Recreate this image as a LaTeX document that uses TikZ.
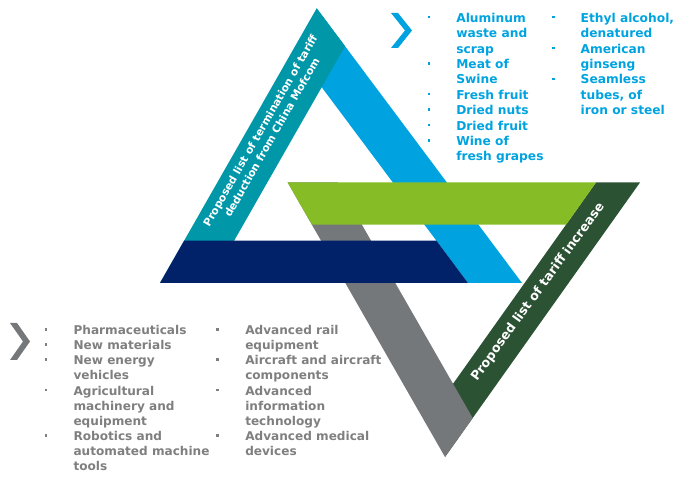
\documentclass[tikz,border=0pt]{standalone}
\usepackage{fontspec}
\setmainfont{DejaVu Sans}

\definecolor{tealband}{HTML}{0097A9}
\definecolor{skyband}{HTML}{00A3E0}
\definecolor{navyband}{HTML}{012169}
\definecolor{limeband}{HTML}{86BC25}
\definecolor{forestband}{HTML}{2C5234}
\definecolor{greyband}{HTML}{75787B}
\definecolor{greytext}{HTML}{7F7F7F}

\newcommand{\listdot}{\rule[2.7pt]{1.7pt}{1.7pt}}

\tikzset{
    bandlabel/.style={text=white, align=center, inner sep=0pt},
    itemlist/.style={anchor=base west, inner sep=0pt},
}

\begin{document}
\begin{tikzpicture}[x=0.025cm, y=-0.025cm]

    \useasboundingbox (0,0) rectangle (678,477);

    %% Upper triangle

    % Key points
    \coordinate (apex) at (316.7,8.3);
    \coordinate (tealfoot) at (160,283);
    \coordinate (tealinfoot) at (210,283);
    \coordinate (tealintop) at (366.7,8.3);
    \coordinate (skyfoot) at (522,283);
    \coordinate (skyinfoot) at (468,283);
    \coordinate (skyintop) at (262.7,8.3);
    \coordinate (skytip) at (intersection of tealinfoot--tealintop and apex--skyfoot);
    \coordinate (innerapex) at (intersection of tealinfoot--tealintop and skyinfoot--skyintop);
    \coordinate (navyL) at (0,240.7);
    \coordinate (navyR) at (678,240.7);
    \coordinate (navyNW) at (intersection of apex--tealfoot and navyL--navyR);
    \coordinate (navyNE) at (intersection of skyinfoot--skyintop and navyL--navyR);

    %% Lower triangle

    % Key points
    \coordinate (vapex) at (445,457);
    \coordinate (greyhead) at (287.7,182.5);
    \coordinate (greyinhead) at (337.7,182.5);
    \coordinate (greyinfoot) at (495,457);
    \coordinate (foresthead) at (640,182.5);
    \coordinate (forestinhead) at (596,182.5);
    \coordinate (forestinfoot) at (401,457);
    \coordinate (foresttip) at (intersection of greyinhead--greyinfoot and foresthead--vapex);
    \coordinate (forestcut) at (intersection of greyinhead--greyinfoot and forestinhead--forestinfoot);
    \coordinate (limeL) at (0,224.5);
    \coordinate (limeR) at (678,224.5);
    \coordinate (limeSW) at (intersection of greyhead--vapex and limeL--limeR);
    \coordinate (limeSE) at (intersection of forestinhead--forestinfoot and limeL--limeR);

    % Bands, back to front
    \fill[skyband] (apex) -- (skyfoot) -- (skyinfoot) -- (innerapex) -- cycle;
    \fill[tealband] (apex) -- (skytip) -- (tealinfoot) -- (tealfoot) -- cycle;
    \fill[forestband] (forestinhead) -- (foresthead) -- (vapex) -- (forestcut) -- cycle;
    \fill[greyband] (greyhead) -- (greyinhead) -- (foresttip) -- (vapex) -- cycle;
    \fill[navyband] (tealfoot) -- (navyNW) -- (navyNE) -- (skyinfoot) -- cycle;
    \fill[limeband] (greyhead) -- (forestinhead) -- (limeSE) -- (limeSW) -- cycle;

    % Band labels
    \node[bandlabel, rotate=60.3, font=\fontsize{7.6}{9.5}\selectfont\bfseries] (tealtext) at (266,134)
        {Proposed list of termination of tariff\\deduction from China Mofcom};
    \node[bandlabel, rotate=54, font=\fontsize{9}{11}\selectfont\bfseries] (foresttext) at (538,292)
        {Proposed list of tariff increase};

    %% Lists

    % Chevrons
    \fill[skyband] (391,13) -- (398,13) -- (412,30.5) -- (398,48) -- (391,48) -- (405,30.5) -- cycle;
    \fill[greyband] (10,323) -- (17,323) -- (30,341.5) -- (17,360) -- (10,360) -- (23,341.5) -- cycle;

    % Upper items
    \node[itemlist, text=skyband, font=\fontsize{8.7}{10.95}\selectfont\bfseries] (fruitlist) at (427.6,22.3)
        {\begin{tabular}[t]{@{}p{20.2pt}@{}l@{}}
            \listdot & Aluminum\\ & waste and\\ & scrap\\
            \listdot & Meat of\\ & Swine\\
            \listdot & Fresh fruit\\
            \listdot & Dried nuts\\
            \listdot & Dried fruit\\
            \listdot & Wine of\\ & fresh grapes
        \end{tabular}};
    \node[itemlist, text=skyband, font=\fontsize{8.7}{10.95}\selectfont\bfseries] (goodslist) at (552,22.3)
        {\begin{tabular}[t]{@{}p{20.2pt}@{}l@{}}
            \listdot & Ethyl alcohol,\\ & denatured\\
            \listdot & American\\ & ginseng\\
            \listdot & Seamless\\ & tubes, of\\ & iron or steel
        \end{tabular}};

    % Lower items
    \node[itemlist, text=greytext, font=\fontsize{8.6}{10.8}\selectfont\bfseries] (sectorlist) at (44.3,334.3)
        {\begin{tabular}[t]{@{}p{20.6pt}@{}l@{}}
            \listdot & Pharmaceuticals\\
            \listdot & New materials\\
            \listdot & New energy\\ & vehicles\\
            \listdot & Agricultural\\ & machinery and\\ & equipment\\
            \listdot & Robotics and\\ & automated machine\\ & tools
        \end{tabular}};
    \node[itemlist, text=greytext, font=\fontsize{8.6}{10.8}\selectfont\bfseries] (techlist) at (216,334.3)
        {\begin{tabular}[t]{@{}p{20.6pt}@{}l@{}}
            \listdot & Advanced rail\\ & equipment\\
            \listdot & Aircraft and aircraft\\ & components\\
            \listdot & Advanced\\ & information\\ & technology\\
            \listdot & Advanced medical\\ & devices
        \end{tabular}};

\end{tikzpicture}
\end{document}
